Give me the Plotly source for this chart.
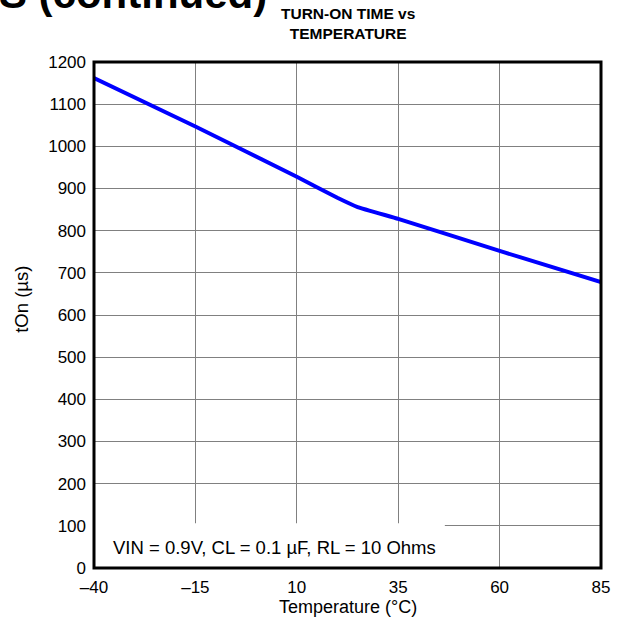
import plotly.graph_objects as go

# Turn-on time versus ambient temperature
temperature_c = [-40, -15, 10, 20, 25, 35, 60, 85]
ton_us = [1162, 1047, 928, 878, 856, 828, 752, 678]

x_ticks = [-40, -15, 10, 35, 60, 85]
x_tick_labels = ["\u201340", "\u201315", "10", "35", "60", "85"]
y_ticks = list(range(0, 1201, 100))

FONT = "Liberation Sans, Arial, sans-serif"

fig = go.Figure()
fig.add_trace(go.Scatter(
    x=temperature_c, y=ton_us, mode="lines",
    line=dict(color="#0000FF", width=4, shape="spline", smoothing=0.3),
    hoverinfo="skip", showlegend=False,
))

axis_common = dict(
    showgrid=True, gridcolor="#808080", gridwidth=1,
    zeroline=False, showline=False, ticks="",
    tickfont=dict(family=FONT, size=17, color="#000000"),
    ticklabelstandoff=7,
)

fig.update_xaxes(range=[-40, 85], tickvals=x_ticks, ticktext=x_tick_labels, **axis_common)
fig.update_yaxes(range=[0, 1200], tickvals=y_ticks, **axis_common)

# white panel behind the test-condition note, then the black frame on top
fig.add_shape(type="rect", xref="x", yref="y", x0=-40, x1=46.5, y0=0, y1=106,
              fillcolor="#FFFFFF", line=dict(width=0), layer="above")
fig.add_shape(type="rect", xref="paper", yref="paper", x0=0, x1=1, y0=0, y1=1,
              line=dict(color="#000000", width=3), layer="above")

fig.add_annotation(text="VIN = 0.9V, CL = 0.1 \u00b5F, RL = 10 Ohms",
                   xref="paper", yref="paper", x=0.034, y=0.04,
                   xanchor="left", yanchor="middle", showarrow=False,
                   font=dict(family=FONT, size=18.5, color="#000000"))

fig.add_annotation(text="<b>TURN-ON TIME vs<br>TEMPERATURE</b>",
                   xref="paper", yref="paper", x=0.5, y=1.076,
                   xanchor="center", yanchor="middle", showarrow=False,
                   font=dict(family=FONT, size=15.5, color="#000000"))

fig.add_annotation(text="<b>TYPICAL CHARACTERISTICS (continued)</b>",
                   xref="paper", yref="paper", x=0.346, y=1.085,
                   xanchor="right", yanchor="bottom", showarrow=False,
                   font=dict(family=FONT, size=42, color="#000000"))

fig.add_annotation(text="Temperature (\u00b0C)",
                   xref="paper", yref="paper", x=0.5, y=-0.077,
                   xanchor="center", yanchor="middle", showarrow=False,
                   font=dict(family=FONT, size=18, color="#000000"))

fig.add_annotation(text="tOn (\u00b5s)", textangle=-90,
                   xref="paper", yref="paper", x=-0.142, y=0.53,
                   xanchor="center", yanchor="middle", showarrow=False,
                   font=dict(family=FONT, size=18.5, color="#000000"))

fig.update_layout(
    width=634, height=624,
    margin=dict(l=94, r=33, t=62, b=56),
    paper_bgcolor="#FFFFFF", plot_bgcolor="#FFFFFF",
)

fig.write_html("out.html")
